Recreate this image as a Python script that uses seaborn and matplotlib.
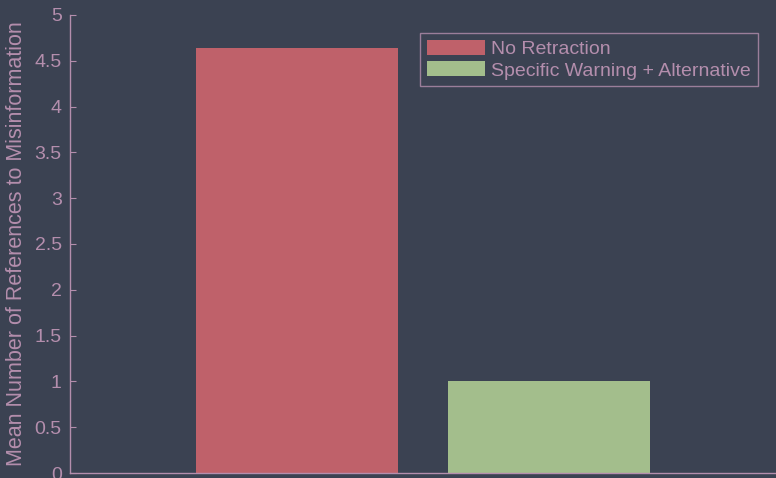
import pandas as pd
import matplotlib
matplotlib.use("Agg")
import matplotlib.pyplot as plt
import seaborn as sns

conditions = ["No Retraction", "Specific Warning + Alternative"]
mean_refs = [4.64, 1.0]
bar_colors = ["#bf616a", "#a3be8c"]

bg = "#3b4252"
fg = "#b48ead"

sns.set_style("white")
plt.rcParams["font.family"] = ["Liberation Sans", "DejaVu Sans"]

df = pd.DataFrame({"condition": conditions, "refs": mean_refs})

fig = plt.figure(figsize=(7.76, 4.78), dpi=100, facecolor=bg)
ax = fig.add_axes([70/776, 5/478, 706/776, 458/478])
ax.set_facecolor(bg)

sns.barplot(data=df, x="condition", y="refs", hue="condition",
            palette=bar_colors, width=0.8, saturation=1, legend=True,
            linewidth=0, edgecolor="none", ax=ax)

ax.set_xlim(-0.9, 1.9)
ax.set_ylim(0, 5)
ax.set_yticks([0, 0.5, 1, 1.5, 2, 2.5, 3, 3.5, 4, 4.5, 5])
ax.set_yticklabels(["0", "0.5", "1", "1.5", "2", "2.5", "3", "3.5", "4", "4.5", "5"])
ax.set_xticks([])
ax.set_xlabel("")
ax.set_ylabel("Mean Number of References to Misinformation", color=fg, fontsize=15.5, labelpad=5)
ax.tick_params(axis="y", direction="in", length=4, color=fg, labelcolor=fg, labelsize=14, pad=6, left=True)

for s in ["top", "right"]:
    ax.spines[s].set_visible(False)
for s in ["left", "bottom"]:
    ax.spines[s].set_color(fg)
    ax.spines[s].set_linewidth(1)

leg = ax.legend(loc="upper right", fontsize=14, frameon=True, fancybox=False,
                handlelength=3.0, handleheight=0.8, handletextpad=0.3,
                borderpad=0.35, labelspacing=0.15, borderaxespad=0.95)
leg.get_frame().set_facecolor(bg)
leg.get_frame().set_edgecolor(fg)
leg.get_frame().set_linewidth(1)
for p in leg.get_patches():
    p.set_linewidth(0)
for t in leg.get_texts():
    t.set_color(fg)

fig.savefig("out.png", dpi=100, facecolor=bg)
